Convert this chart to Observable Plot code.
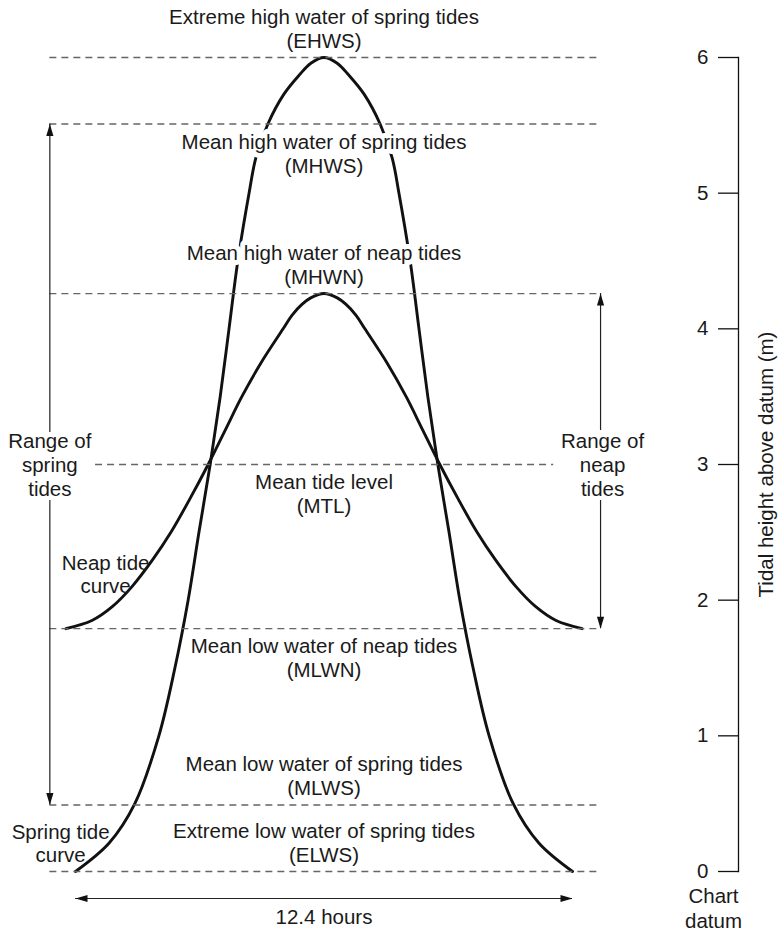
<!DOCTYPE html>
<html><head><meta charset="utf-8">
<script src="https://cdn.jsdelivr.net/npm/d3@7"></script>
<script src="https://cdn.jsdelivr.net/npm/@observablehq/plot@0.6"></script>
<style>body{margin:0;background:#fff} #chart svg{display:block}</style>
</head><body><div id="chart"></div>
<script>
// ---- data ----
const levelAbbr = ["EHWS", "MHWS", "MHWN", "MTL", "MLWN", "MLWS", "ELWS"];
const levelNames = [
  "Extreme high water of spring tides",
  "Mean high water of spring tides",
  "Mean high water of neap tides",
  "Mean tide level",
  "Mean low water of neap tides",
  "Mean low water of spring tides",
  "Extreme low water of spring tides"
];
const levelHeights = [6.0, 5.51, 4.26, 3.0, 1.79, 0.49, 0];
const labelsBelowLine = ["MHWS", "MTL", "MLWN"];

// spring tide curve (hours, metres above chart datum)
const springHours = [0, 0.84, 1.48, 2.08, 2.48, 2.81, 3.08, 3.36, 3.61, 3.83, 4.05, 4.33, 4.50, 4.80, 5.20, 5.58, 5.88, 6.20,
  6.52, 6.82, 7.20, 7.60, 7.90, 8.07, 8.35, 8.57, 8.79, 9.04, 9.32, 9.59, 9.92, 10.32, 10.92, 11.56, 12.40];
const springHeights = [0, 0.21, 0.50, 1.00, 1.50, 2.00, 2.50, 3.00, 3.50, 4.00, 4.50, 5.00, 5.26, 5.51, 5.73, 5.87, 5.96, 6.00,
  5.96, 5.87, 5.73, 5.51, 5.26, 5.00, 4.50, 4.00, 3.50, 3.00, 2.50, 2.00, 1.50, 1.00, 0.50, 0.21, 0];

// neap tide curve
const neapHours = [-0.24, 0.41, 0.91, 1.41, 1.93, 2.38, 2.86, 3.31, 3.73, 4.15, 4.63, 5.18, 5.40, 5.65, 5.88, 6.20,
  6.52, 6.75, 7.00, 7.22, 7.77, 8.25, 8.67, 9.09, 9.54, 10.02, 10.47, 10.99, 11.49, 11.99, 12.64];
const neapHeights = [1.79, 1.85, 1.95, 2.10, 2.30, 2.50, 2.75, 3.00, 3.25, 3.50, 3.75, 4.00, 4.10, 4.18, 4.23, 4.26,
  4.23, 4.18, 4.10, 4.00, 3.75, 3.50, 3.25, 3.00, 2.75, 2.50, 2.30, 2.10, 1.95, 1.85, 1.79];

const yTicks = [0, 1, 2, 3, 4, 5, 6];
const cycleHours = 12.4;
const cycleLabel = "12.4 hours";
const yTitle = "Tidal height above datum (m)";
const datumLabel = "Chart\ndatum";

// ---- derived tables ----
const levels = levelAbbr.map((a, i) => ({abbr: a, name: levelNames[i], h: levelHeights[i],
  below: labelsBelowLine.includes(a), paren: "(" + a + ")"}));
const H = Object.fromEntries(levels.map(d => [d.abbr, d.h]));
const spring = springHours.map((t, i) => ({t, h: springHeights[i]}));
const neap = neapHours.map((t, i) => ({t, h: neapHeights[i]}));
const above = levels.filter(d => !d.below), below = levels.filter(d => d.below);

// annotation layout (hours along the cycle)
const lineStart = -0.64, lineEnd = 13.1;
const mtlStart = 0.5, mtlEnd = 11.93;

const font = "'Liberation Sans', Arial, Helvetica, sans-serif";
const fs = 20.5;
const ink = "#1a1a1a";
const halo = {stroke: "white", strokeWidth: 10, strokeLinejoin: "round", paintOrder: "stroke"};

function headSymbol(dir) {
  const L = 12, W = 3.6;
  return {draw(ctx) {
    if (dir === "up") { ctx.moveTo(0, 0); ctx.lineTo(W, L); ctx.lineTo(-W, L); }
    else if (dir === "down") { ctx.moveTo(0, 0); ctx.lineTo(W, -L); ctx.lineTo(-W, -L); }
    else if (dir === "left") { ctx.moveTo(0, 0); ctx.lineTo(L, W); ctx.lineTo(L, -W); }
    else { ctx.moveTo(0, 0); ctx.lineTo(-L, W); ctx.lineTo(-L, -W); }
    ctx.closePath();
  }};
}

const arrowStyle = {stroke: "#222", strokeWidth: 1.2};
const dashStyle = {stroke: "#666", strokeWidth: 1.3, strokeDasharray: "7,5"};
const textStyle = {fontSize: fs, fill: ink};

const chart = Plot.plot({
  width: 780,
  height: 936,
  marginLeft: 49,
  marginRight: 42,
  marginTop: 57,
  marginBottom: 65,
  style: {fontFamily: font, fontSize: fs + "px", color: ink, background: "#fff"},
  x: {domain: [0, cycleHours], range: [75, 572], axis: null},
  y: {domain: [0, 6], axis: null},
  marks: [
    // tide curves
    Plot.line(spring, {x: "t", y: "h", curve: "catmull-rom", stroke: "#111", strokeWidth: 2.9}),
    Plot.line(neap, {x: "t", y: "h", curve: "catmull-rom", stroke: "#111", strokeWidth: 2.9}),

    // level labels: names (knock out the curves behind them) and abbreviations
    Plot.text(above, {x: () => cycleHours / 2, y: "h", text: "name", lineAnchor: "bottom", dy: -34, ...halo, ...textStyle}),
    Plot.text(above, {x: () => cycleHours / 2, y: "h", text: "paren", lineAnchor: "bottom", dy: -10, ...textStyle}),
    Plot.text(below, {x: () => cycleHours / 2, y: "h", text: "name", lineAnchor: "top", dy: 10, ...halo, ...textStyle}),
    Plot.text(below, {x: () => cycleHours / 2, y: "h", text: "paren", lineAnchor: "top", dy: 34, ...textStyle}),

    // dashed datum levels
    Plot.ruleY(levels.filter(d => d.abbr !== "MTL"), {y: "h", x1: () => lineStart, x2: () => lineEnd, ...dashStyle}),
    Plot.ruleY(levels.filter(d => d.abbr === "MTL"), {y: "h", x1: () => mtlStart, x2: () => mtlEnd, ...dashStyle}),

    // range of spring tides arrow (y1 = upper value, y2 = lower value)
    Plot.ruleX([{x: lineStart, y1: H.MHWS, y2: H.MTL}], {x: "x", y1: "y1", y2: "y2", insetBottom: 32, ...arrowStyle}),
    Plot.ruleX([{x: lineStart, y1: H.MTL, y2: H.MLWS}], {x: "x", y1: "y1", y2: "y2", insetTop: 36, ...arrowStyle}),
    // range of neap tides arrow
    Plot.ruleX([{x: lineEnd, y1: H.MHWN, y2: H.MTL}], {x: "x", y1: "y1", y2: "y2", insetBottom: 34, ...arrowStyle}),
    Plot.ruleX([{x: lineEnd, y1: H.MTL, y2: H.MLWN}], {x: "x", y1: "y1", y2: "y2", insetTop: 36, ...arrowStyle}),
    // 12.4 hours arrow
    Plot.ruleY([{x1: 0, x2: cycleHours, y: H.ELWS}], {x1: "x1", x2: "x2", y: "y", dy: 27, ...arrowStyle}),

    // arrow heads
    Plot.dot([{x: lineStart, y: H.MHWS}, {x: lineEnd, y: H.MHWN}], {x: "x", y: "y", symbol: headSymbol("up"), fill: "#111", stroke: "none"}),
    Plot.dot([{x: lineStart, y: H.MLWS}, {x: lineEnd, y: H.MLWN}], {x: "x", y: "y", symbol: headSymbol("down"), fill: "#111", stroke: "none"}),
    Plot.dot([{x: 0, y: H.ELWS}], {x: "x", y: "y", dy: 27, symbol: headSymbol("left"), fill: "#111", stroke: "none"}),
    Plot.dot([{x: cycleHours, y: H.ELWS}], {x: "x", y: "y", dy: 27, symbol: headSymbol("right"), fill: "#111", stroke: "none"}),

    // range labels
    Plot.text([{x: lineStart, y: H.MTL, s: "Range of\nspring\ntides"}, {x: lineEnd + 0.05, y: H.MTL, s: "Range of\nneap\ntides"}],
      {x: "x", y: "y", text: "s", lineAnchor: "middle", lineHeight: 1.17, ...textStyle}),

    // curve labels
    Plot.text([{x: 0.75, y: 2.05, s: "Neap tide\ncurve"}], {x: "x", y: "y", text: "s", lineAnchor: "bottom", lineHeight: 1.12, ...textStyle}),
    Plot.text([{x: -0.37, y: H.ELWS, s: "Spring tide\ncurve"}], {x: "x", y: "y", text: "s", lineAnchor: "bottom", dy: -10, lineHeight: 1.12, ...textStyle}),

    // cycle label
    Plot.text([{x: cycleHours / 2, y: H.ELWS, s: cycleLabel}], {x: "x", y: "y", text: "s", lineAnchor: "bottom", dy: 52, ...textStyle}),

    // y axis on the right, ticks pointing inward
    Plot.axisY(yTicks, {anchor: "left", frameAnchor: "right", tickSize: 20, tickPadding: 10, label: null,
      tickFormat: d => String(d), fontSize: fs, stroke: "#111", fill: ink, strokeWidth: 1.3}),
    Plot.frame({anchor: "right", stroke: "#111", strokeWidth: 1.3}),
    Plot.text([{y: H.ELWS, s: datumLabel}], {y: "y", text: "s", frameAnchor: "right", dx: -25, dy: 14.4,
      lineAnchor: "top", lineHeight: 1.2, textAnchor: "middle", ...textStyle}),
    Plot.text([{y: H.MTL, s: yTitle}], {y: "y", text: "s", frameAnchor: "right", dx: 28, rotate: -90,
      textAnchor: "middle", lineAnchor: "middle", ...textStyle})
  ]
});
document.getElementById("chart").appendChild(chart);
</script>
</body></html>
